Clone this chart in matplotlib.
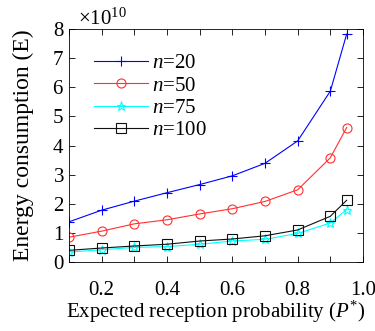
import matplotlib
matplotlib.use("Agg")
import matplotlib.pyplot as plt
from matplotlib.ticker import MultipleLocator

# expected reception probability
p_star = [0.1, 0.2, 0.3, 0.4, 0.5, 0.6, 0.7, 0.8, 0.9, 0.95]

# energy consumption (units of 1e10)
e_n20 = [1.38, 1.78, 2.09, 2.38, 2.66, 2.96, 3.39, 4.16, 5.87, 7.83]
e_n50 = [0.85, 1.06, 1.31, 1.45, 1.65, 1.83, 2.08, 2.48, 3.58, 4.62]
e_n75 = [0.34, 0.42, 0.50, 0.53, 0.61, 0.72, 0.78, 0.98, 1.34, 1.80]
e_n100 = [0.40, 0.48, 0.55, 0.61, 0.72, 0.79, 0.90, 1.10, 1.57, 2.12]

x_ticks = [0.2, 0.4, 0.6, 0.8, 1.0]
x_ticklabels = ["0.2", "0.4", "0.6", "0.8", "1.0"]


def main():
    plt.rcParams.update({
        "font.family": "Liberation Serif",
        "font.size": 15,
        "mathtext.fontset": "custom",
        "mathtext.rm": "Liberation Serif",
        "mathtext.it": "Liberation Serif:italic",
    })

    fig = plt.figure(figsize=(3.75, 3.31), dpi=100)
    ax = fig.add_axes([0.184, 0.2085, 0.784, 0.7035])

    series = [
        (e_n20, "$n$=20", "#0000ff", "+", {}),
        (e_n50, "$n$=50", "#ff3030", "o", {"markerfacecolor": "none"}),
        (e_n75, "$n$=75", "#00ffff", "*", {"markerfacecolor": "none"}),
        (e_n100, "$n$=100", "#101010", "s", {"markerfacecolor": "none"}),
    ]
    for vals, label, color, marker, extra in series:
        ax.plot(p_star, [v * 1e10 for v in vals], color=color, marker=marker,
                markersize=6.5, linewidth=0.8, markeredgewidth=0.8, label=label,
                **extra)

    ax.set_xlim(0.1, 1.0)
    ax.set_ylim(0, 8e10)
    ax.set_xticks(x_ticks)
    ax.set_xticklabels(x_ticklabels)
    ax.xaxis.set_minor_locator(MultipleLocator(0.1))
    ax.yaxis.set_major_locator(MultipleLocator(1e10))
    ax.ticklabel_format(axis="y", style="sci", scilimits=(0, 0), useMathText=True)
    offset = ax.yaxis.get_offset_text()
    offset.set_fontsize(15)
    offset.set_x(0.03)
    ax.tick_params(which="both", direction="in", top=True, right=True,
                   length=4, width=0.6, labelsize=15)
    ax.tick_params(axis="x", which="both", pad=14)
    for sp in ax.spines.values():
        sp.set_linewidth(0.6)

    ax.set_xlabel("Expected reception probability ($P^{*}$)", fontsize=15,
                  labelpad=-1)
    ax.set_ylabel("Energy consumption (E)", fontsize=17, labelpad=13)

    ax.legend(loc="upper left", bbox_to_anchor=(0.058, 0.93), frameon=False,
              fontsize=15, handlelength=2.55, labelspacing=0.13,
              handletextpad=0.2, borderaxespad=0)

    fig.savefig("out.png", dpi=100)
    plt.close(fig)


if __name__ == "__main__":
    main()
